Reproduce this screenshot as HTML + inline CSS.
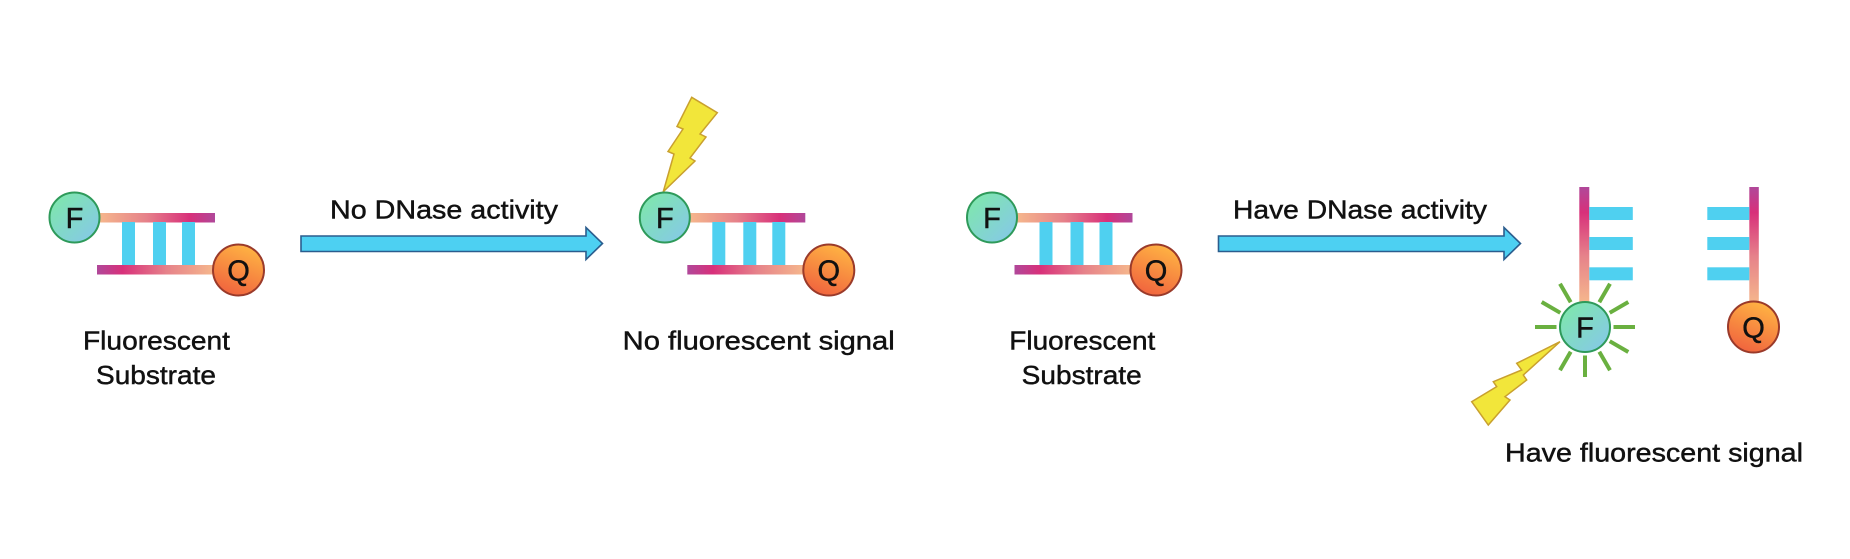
<!DOCTYPE html>
<html>
<head>
<meta charset="utf-8">
<style>
  html,body{margin:0;padding:0;background:#fff;}
  body{width:1850px;height:559px;overflow:hidden;}
  svg{display:block;}
  text{font-family:"Liberation Sans", Arial, sans-serif;fill:#111;stroke:#111;stroke-width:0.45;}
</style>
</head>
<body>
<svg width="1850" height="559" viewBox="0 0 1850 559" xmlns="http://www.w3.org/2000/svg">
  <defs>
    <linearGradient id="gTop" x1="0" y1="0" x2="1" y2="0">
      <stop offset="0" stop-color="#f5b68c"/>
      <stop offset="0.4" stop-color="#e6828a"/>
      <stop offset="0.78" stop-color="#d8307a"/>
      <stop offset="1" stop-color="#b0489a"/>
    </linearGradient>
    <linearGradient id="gBot" x1="1" y1="0" x2="0" y2="0">
      <stop offset="0" stop-color="#f5b68c"/>
      <stop offset="0.4" stop-color="#e6828a"/>
      <stop offset="0.78" stop-color="#d8307a"/>
      <stop offset="1" stop-color="#b0489a"/>
    </linearGradient>
    <linearGradient id="gVert" x1="0" y1="1" x2="0" y2="0">
      <stop offset="0" stop-color="#f5b68c"/>
      <stop offset="0.4" stop-color="#e6828a"/>
      <stop offset="0.78" stop-color="#d8307a"/>
      <stop offset="1" stop-color="#b0489a"/>
    </linearGradient>
    <linearGradient id="gF" x1="0" y1="0" x2="1" y2="1">
      <stop offset="0" stop-color="#7eeaa6"/>
      <stop offset="1" stop-color="#86c6ec"/>
    </linearGradient>
    <linearGradient id="gQ" x1="0.7" y1="0" x2="0.3" y2="1">
      <stop offset="0" stop-color="#ffb543"/>
      <stop offset="1" stop-color="#f0623e"/>
    </linearGradient>
    <g id="duplex">
      <rect x="100" y="213" width="115" height="9.5" fill="url(#gTop)"/>
      <rect x="122" y="222" width="13" height="43" fill="#4fd0f0"/>
      <rect x="153" y="222" width="13" height="43" fill="#4fd0f0"/>
      <rect x="182" y="222" width="13" height="43" fill="#4fd0f0"/>
      <rect x="97" y="265" width="116" height="9.5" fill="url(#gBot)"/>
      <circle cx="74.5" cy="217.5" r="25" fill="url(#gF)" stroke="#2e9a5a" stroke-width="2"/>
      <text x="74.5" y="228" font-size="29" text-anchor="middle">F</text>
      <circle cx="238.5" cy="270" r="25.5" fill="url(#gQ)" stroke="#9a3a2a" stroke-width="2"/>
      <text x="238.5" y="280.5" font-size="29" text-anchor="middle">Q</text>
    </g>
  </defs>

  <!-- Diagram 1 -->
  <use href="#duplex"/>
  <text x="83" y="349.3" font-size="26" textLength="147" lengthAdjust="spacingAndGlyphs">Fluorescent</text>
  <text x="96" y="384" font-size="26" textLength="120" lengthAdjust="spacingAndGlyphs">Substrate</text>

  <!-- Arrow 1 -->
  <polygon points="301,236 586,236 586,227.5 602.5,243.5 586,259.5 586,251.5 301,251.5" fill="#4dd0f2" stroke="#2b5d8e" stroke-width="1.6" stroke-linejoin="miter"/>
  <text x="330" y="218.3" font-size="26" textLength="228" lengthAdjust="spacingAndGlyphs">No DNase activity</text>

  <!-- Diagram 2 -->
  <polygon points="691.7,97.3 717.3,112.7 700,134 706,137 690,158 695,161 663.3,191.7 674,154 668,151.5 683,129 677,126.5" fill="#f2e63a" stroke="#c9a02e" stroke-width="1.5" stroke-linejoin="miter"/>
  <use href="#duplex" x="590.3"/>
  <text x="622.7" y="349.3" font-size="26" textLength="272" lengthAdjust="spacingAndGlyphs">No fluorescent signal</text>

  <!-- Diagram 3 -->
  <use href="#duplex" x="917.5"/>
  <text x="1009.3" y="349.3" font-size="26" textLength="146" lengthAdjust="spacingAndGlyphs">Fluorescent</text>
  <text x="1021.7" y="384" font-size="26" textLength="120" lengthAdjust="spacingAndGlyphs">Substrate</text>

  <!-- Arrow 2 -->
  <polygon points="1218.5,236 1504,236 1504,227.5 1520.5,243.5 1504,259.5 1504,251.5 1218.5,251.5" fill="#4dd0f2" stroke="#2b5d8e" stroke-width="1.6" stroke-linejoin="miter"/>
  <text x="1233" y="218.3" font-size="26" textLength="254" lengthAdjust="spacingAndGlyphs">Have DNase activity</text>

  <!-- Diagram 4: left fragment with F -->
  <g stroke="#6ab040" stroke-width="4" stroke-linecap="butt">
    <line x1="1613.5" y1="327" x2="1635" y2="327"/>
    <line x1="1609.7" y1="312.8" x2="1628.3" y2="302"/>
    <line x1="1599.3" y1="302.3" x2="1610" y2="283.7"/>
    <line x1="1570.7" y1="302.3" x2="1560" y2="283.7"/>
    <line x1="1560.3" y1="312.8" x2="1541.7" y2="302"/>
    <line x1="1556.5" y1="327" x2="1535" y2="327"/>
    <line x1="1570.7" y1="351.7" x2="1560" y2="370.3"/>
    <line x1="1585" y1="355.5" x2="1585" y2="377"/>
    <line x1="1599.3" y1="351.7" x2="1610" y2="370.3"/>
    <line x1="1609.7" y1="341.2" x2="1628.3" y2="352"/>
  </g>
  <rect x="1579.3" y="187" width="10" height="115" fill="url(#gVert)"/>
  <rect x="1589.3" y="207" width="43.5" height="13" fill="#4fd0f0"/>
  <rect x="1589.3" y="237" width="43.5" height="13" fill="#4fd0f0"/>
  <rect x="1589.3" y="267.3" width="43.5" height="13" fill="#4fd0f0"/>
  <circle cx="1585" cy="327" r="25" fill="url(#gF)" stroke="#2e9a5a" stroke-width="2"/>
  <text x="1585" y="337.5" font-size="29" text-anchor="middle">F</text>
  <polygon points="1560,341.7 1516.7,363.3 1521.7,370 1493.3,381.7 1496.7,386.7 1471.7,401.7 1488.3,425 1510,400 1505,396.7 1526.7,380 1523.3,375" fill="#f2e63a" stroke="#c9a02e" stroke-width="1.5" stroke-linejoin="miter"/>

  <!-- Diagram 4: right fragment with Q -->
  <rect x="1749.3" y="187" width="9.5" height="116" fill="url(#gVert)"/>
  <rect x="1707.3" y="207" width="42" height="13" fill="#4fd0f0"/>
  <rect x="1707.3" y="237" width="42" height="13" fill="#4fd0f0"/>
  <rect x="1707.3" y="267.3" width="42" height="13" fill="#4fd0f0"/>
  <circle cx="1753.5" cy="327" r="25.5" fill="url(#gQ)" stroke="#9a3a2a" stroke-width="2"/>
  <text x="1753.5" y="337.5" font-size="29" text-anchor="middle">Q</text>

  <text x="1505" y="461.7" font-size="26" textLength="298" lengthAdjust="spacingAndGlyphs">Have fluorescent signal</text>
</svg>
</body>
</html>
